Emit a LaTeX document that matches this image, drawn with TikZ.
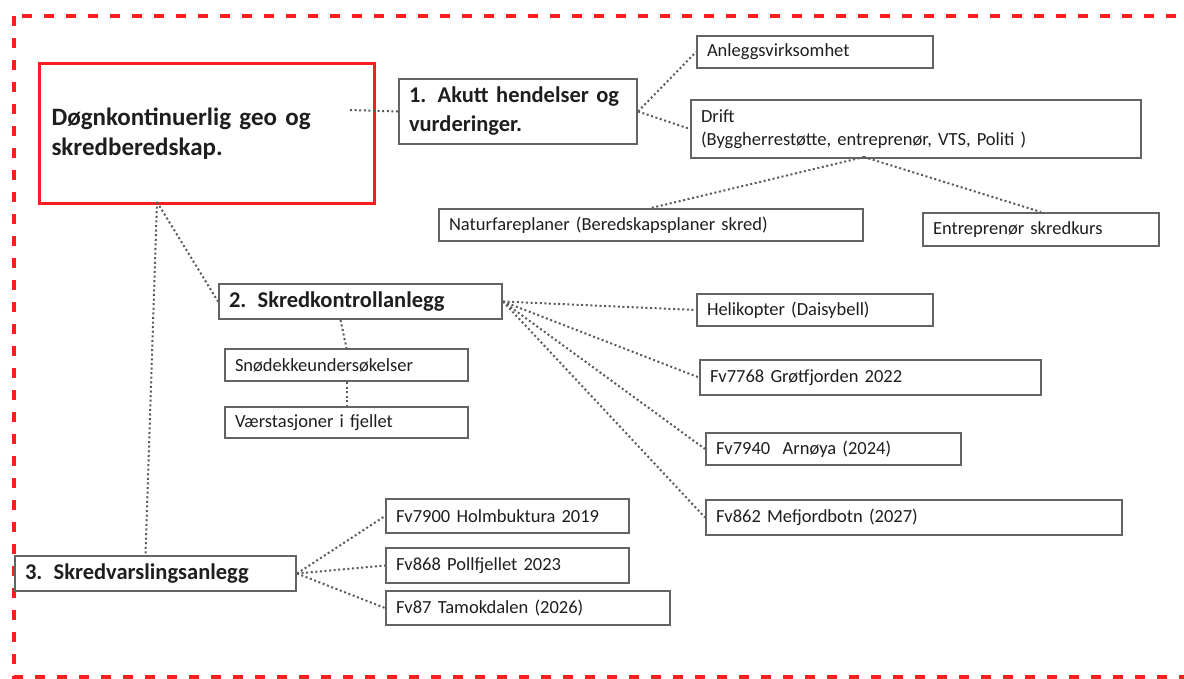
\documentclass[tikz,border=0pt]{standalone}
\usepackage{fontspec}
\setmainfont{Carlito}
\definecolor{boxgray}{RGB}{100,100,100}
\definecolor{txtgray}{RGB}{30,30,30}
\definecolor{linkgray}{RGB}{90,90,90}
\definecolor{alertred}{RGB}{250,30,30}
\tikzset{every picture/.style={line width=0.75pt}}

\begin{document}
\begin{tikzpicture}[x=1pt,y=1pt,yscale=-1,xscale=1,
	box/.style 2 args={draw=boxgray, line width=2pt, anchor=north west, align=left, inner xsep=10pt, inner ysep=0pt, text width=#1, minimum height=#2, text=txtgray, font=\fontsize{18.5}{23}\selectfont},
	headbox/.style={font=\fontsize{22.5}{29}\selectfont\bfseries},
	link/.style={draw=linkgray, line width=2pt, dash pattern=on 2pt off 2.6pt}]
	\useasboundingbox (0,0) rectangle (1184,678);
	
	%Outer frame
	\draw [alertred, line width=3.6pt, dash pattern=on 10pt off 12pt] (14,16) rectangle (1210,677);
	
	%Main box
	\node [box={311}{140}, draw=alertred, line width=3pt, inner xsep=12pt, font=\fontsize{25}{30}\selectfont\bfseries] (main) at (38,62) {Døgnkontinuerlig geo og\\skredberedskap.};
	
	%1. Akutt
	\node [box={218}{65}, headbox] (akutt) at (398,78) {1. Akutt hendelser og\\vurderinger.};
	\node [box={216}{32}] (anlegg) at (696,35) {Anleggsvirksomhet};
	\node [box={430}{58}] (drift) at (690,99) {Drift\\(Byggherrestøtte, entreprenør, VTS, Politi )};
	\node [box={404}{32}] (natur) at (438,208) {Naturfareplaner (Beredskapsplaner skred)};
	\node [box={216}{33}] (kurs) at (922,212) {Entreprenør skredkurs};
	
	%2. Skredkontroll
	\node [box={263}{35}, headbox] (kontroll) at (218,283) {2. Skredkontrollanlegg};
	\node [box={223}{32}] (snodekke) at (224,348) {Snødekkeundersøkelser};
	\node [box={223}{31}] (vaer) at (224,406) {Værstasjoner i fjellet};
	\node [box={216}{32}] (heli) at (696,293) {Helikopter (Daisybell)};
	\node [box={321}{35}] (grot) at (699,359) {Fv7768 Grøtfjorden 2022};
	\node [box={235}{32}] (arnoy) at (705,432) {Fv7940\ \ Arnøya (2024)};
	\node [box={396}{35}] (mefj) at (705,499) {Fv862 Mefjordbotn (2027)};
	
	%3. Skredvarsling
	\node [box={261}{35}, headbox] (varsling) at (14,555) {3. Skredvarslingsanlegg};
	\node [box={223}{34}] (holm) at (385,498) {Fv7900 Holmbuktura 2019};
	\node [box={223}{35}] (pollf) at (385,547) {Fv868 Pollfjellet 2023};
	\node [box={264}{34}] (tamok) at (385,590) {Fv87 Tamokdalen (2026)};
	
	%Connectors
	\coordinate (mainR) at (350,110);
	\coordinate (mainB) at (157,202);
	\coordinate (driftB) at (864,157);
	\draw [link] (mainR) -- (akutt.west);
	\draw [link] (akutt.east) -- (anlegg.west);
	\draw [link] (akutt.east) -- (drift.west);
	\draw [link] (driftB) -- (natur.north);
	\draw [link] (driftB) -- (kurs.north);
	\draw [link] (mainB) -- (kontroll.west);
	\draw [link] (mainB) -- ([xshift=-10pt]varsling.north);
	\draw [link] ([xshift=-20pt]kontroll.south) -- (snodekke.north);
	\draw [link] (snodekke.south) -- (vaer.north);
	\foreach \n in {heli,grot,arnoy,mefj}
		\draw [link] (kontroll.east) -- (\n.west);
	\foreach \n in {holm,pollf,tamok}
		\draw [link] (varsling.east) -- (\n.west);
	
\end{tikzpicture}
\end{document}
